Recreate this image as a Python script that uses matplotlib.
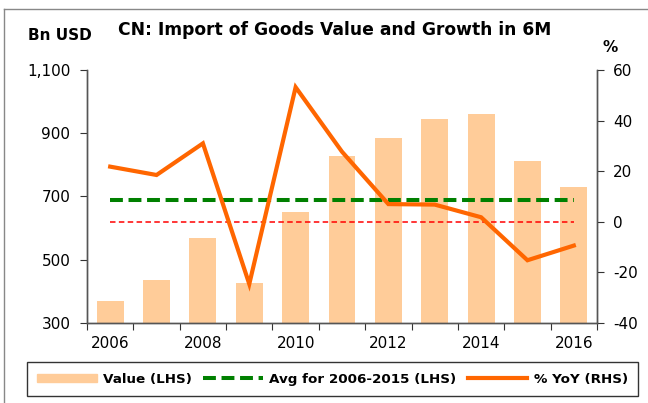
import matplotlib
matplotlib.use("Agg")
import matplotlib.pyplot as plt
from matplotlib.patches import Rectangle
from matplotlib.lines import Line2D
from matplotlib.ticker import FuncFormatter
import numpy as np

plt.rcParams['font.family'] = ['DejaVu Sans']
plt.rcParams['axes.unicode_minus'] = False

years = [2006, 2007, 2008, 2009, 2010, 2011, 2012, 2013, 2014, 2015, 2016]
values = [370, 436, 568, 426, 651, 829, 886, 945, 961, 811, 730]
yoy = [21.8, 18.5, 31.0, -24.6, 53.2, 27.7, 7.0, 6.8, 1.8, -15.2, -9.4]
avg_value = float(np.mean(values[:10]))
xlabels = ['2006', '', '2008', '', '2010', '', '2012', '', '2014', '', '2016']

W, H = 648, 403
fig = plt.figure(figsize=(W/100, H/100), dpi=100)
ax = fig.add_axes([87/W, 1-323/H, (597-87)/W, (323-70)/H])
ax2 = ax.twinx()

x = np.arange(len(years))
bar_c = '#FFCC99'
ax.bar(x, values, width=0.58, color=bar_c, zorder=1)
ax.plot([x[0], x[-1]], [avg_value, avg_value], color='#008000', lw=2.9,
        dashes=(3.2, 1.4), zorder=3)
ax.set_ylim(300, 1100)
ax.set_xlim(-0.5, len(years)-0.5)
ax.set_yticks([300, 500, 700, 900, 1100])
ax.yaxis.set_major_formatter(FuncFormatter(lambda v, p: f'{int(v):,}'))

ax2.plot([x[0], x[-1]], [0, 0], color='#FF0000', lw=1.1, dashes=(3.6, 2.2), zorder=2)
ax2.plot(x, yoy, color='#FF6600', lw=3.0, zorder=4, solid_joinstyle='miter')
ax2.set_ylim(-40, 60)
ax2.set_yticks([-40, -20, 0, 20, 40, 60])

ax.set_xticks(np.arange(-0.5, len(years), 1.0))
ax.set_xticklabels([])
ax.set_xticks(x, minor=True)
ax.set_xticklabels(xlabels, minor=True)
ax.tick_params(axis='x', which='minor', length=0, labelsize=11, pad=9)
ax.tick_params(axis='x', which='major', length=5, direction='out', color='#333333')
ax.tick_params(axis='y', length=5, direction='out', labelsize=11, color='#333333', pad=7)
ax2.tick_params(axis='y', length=5, direction='out', labelsize=11, color='#333333', pad=6.5)

for a in (ax, ax2):
    a.spines['top'].set_visible(False)
    for s in ('left', 'right', 'bottom'):
        a.spines[s].set_color('#555555')
        a.spines[s].set_linewidth(1.0)

fig.text(118/W, 1-30/H, 'CN: Import of Goods Value and Growth in 6M', fontsize=12.3,
         fontweight='bold', va='center', ha='left')
fig.text(28/W, 1-36/H, 'Bn USD', fontsize=11, fontweight='bold', va='center', ha='left')
fig.text(610/W, 1-47/H, '%', fontsize=11, fontweight='bold', va='center', ha='center')

# outer frame (top & left edges only)
fig.add_artist(Line2D([4/W, 1.0], [1-9/H, 1-9/H], transform=fig.transFigure,
                      color='#888888', lw=1.0))
fig.add_artist(Line2D([4/W, 4/W], [0.0, 1-9/H], transform=fig.transFigure,
                      color='#888888', lw=1.0))

handles = [Rectangle((0, 0), 1, 1, color=bar_c),
           Line2D([], [], color='#008000', lw=2.9, dashes=(3.2, 1.4)),
           Line2D([], [], color='#FF6600', lw=3.0)]
labels = ['Value (LHS)', 'Avg for 2006-2015 (LHS)', '% YoY (RHS)']
leg = fig.legend(handles, labels, loc='center', bbox_to_anchor=((24+641)/2/W, 1-379/H),
                 ncol=3, frameon=True, fancybox=False, edgecolor='black',
                 prop={'weight': 'bold', 'size': 9.7}, handlelength=4.4,
                 handleheight=0.55, columnspacing=0.85, handletextpad=0.48,
                 borderpad=0.75, borderaxespad=0)
leg.get_frame().set_linewidth(1.0)

fig.savefig('out.png', dpi=100)
